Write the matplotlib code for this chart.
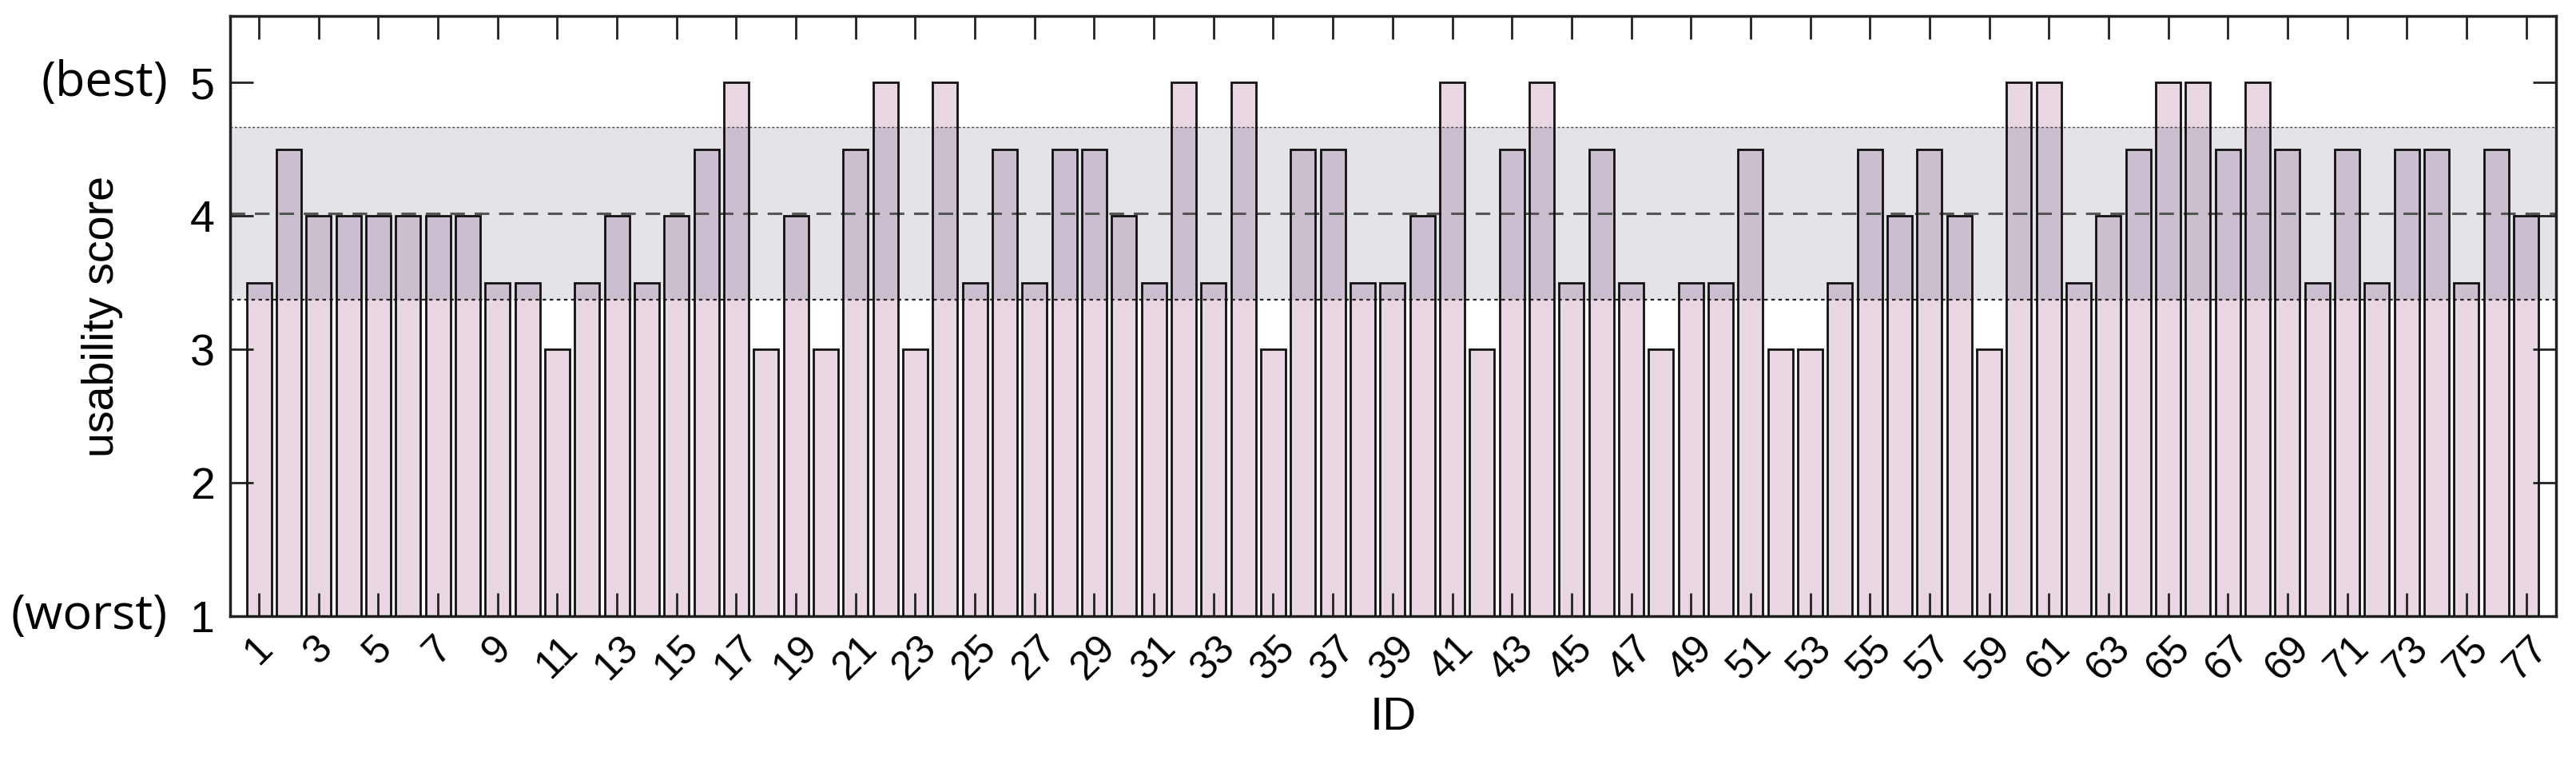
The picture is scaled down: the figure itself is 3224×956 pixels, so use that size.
import numpy as np
import matplotlib
matplotlib.use("Agg")
import matplotlib.pyplot as plt

ids = list(range(1, 78))
scores = [3.5,4.5,4,4,4,4,4,4,3.5,3.5,3,3.5,4,3.5,4,4.5,5,3,4,3,
          4.5,5,3,5,3.5,4.5,3.5,4.5,4.5,4,3.5,5,3.5,5,3,4.5,4.5,3.5,3.5,4,
          5,3,4.5,5,3.5,4.5,3.5,3,3.5,3.5,4.5,3,3,3.5,4.5,4,4.5,4,3,5,
          5,3.5,4,4.5,5,5,4.5,5,4.5,3.5,4.5,3.5,4.5,4.5,3.5,4.5,4]
mean_score = 4.02
band_lo, band_hi = 3.375, 4.67

plt.rcParams['font.family'] = ['Liberation Sans', 'DejaVu Sans']
fig = plt.figure(figsize=(32.24, 9.56), dpi=100)
ax = fig.add_axes([288/3224, 1-771/956, (3199-288)/3224, (771-20)/956])

x = np.array(ids)
s = np.array(scores)
ax.axhspan(band_lo, band_hi, color='#e3e3e8', zorder=0, lw=0)
ax.bar(x, s - 1, bottom=1, width=0.83, color='#e8d6e2', edgecolor='none', zorder=1)
top = np.clip(s, band_lo, band_hi)
ax.bar(x, top - band_lo, bottom=band_lo, width=0.83, color='#cbbfcf', edgecolor='none', zorder=1.5)
ax.bar(x, s - 1, bottom=1, width=0.83, fill=False, edgecolor='#111111', lw=2, zorder=3)
ax.axhline(band_lo, color='#222222', ls=(0, (2, 2)), lw=1.6, zorder=2)
ax.axhline(band_hi, color='#444444', ls=(0, (2, 2)), lw=1.0, zorder=2)
ax.axhline(mean_score, color='#555555', ls=(0, (6, 4)), lw=2.2, zorder=2)

ax.set_xlim(0.035, 78.0)
ax.set_ylim(1, 5.5)
ax.set_xticks(x[::2])
ax.set_xticklabels([str(i) for i in ids[::2]], rotation=45, fontsize=36,
                   ha='center', va='top')
ax.set_yticks([1, 2, 3, 4, 5])
ax.set_yticklabels(['1', '2', '3', '4', '5'], fontsize=40)
ax.tick_params(direction='in', length=21, width=2, top=True, right=True, color='#222222')
ax.tick_params(axis='x', pad=12)
ax.tick_params(axis='y', pad=14)
for sp in ax.spines.values():
    sp.set_linewidth(2.5)
    sp.set_color('#222222')
ax.set_ylabel('usability score', fontsize=40, labelpad=60)
ax.set_xlabel('ID', fontsize=42, labelpad=8)

fig.text(210/3224, 1-771/956, '(worst)', fontsize=44, ha='right', va='center',
         family=['Open Sans', 'DejaVu Sans'])
fig.text(210/3224, 1-104/956, '(best)', fontsize=44, ha='right', va='center',
         family=['Open Sans', 'DejaVu Sans'])

fig.savefig('out.png', dpi=100)
